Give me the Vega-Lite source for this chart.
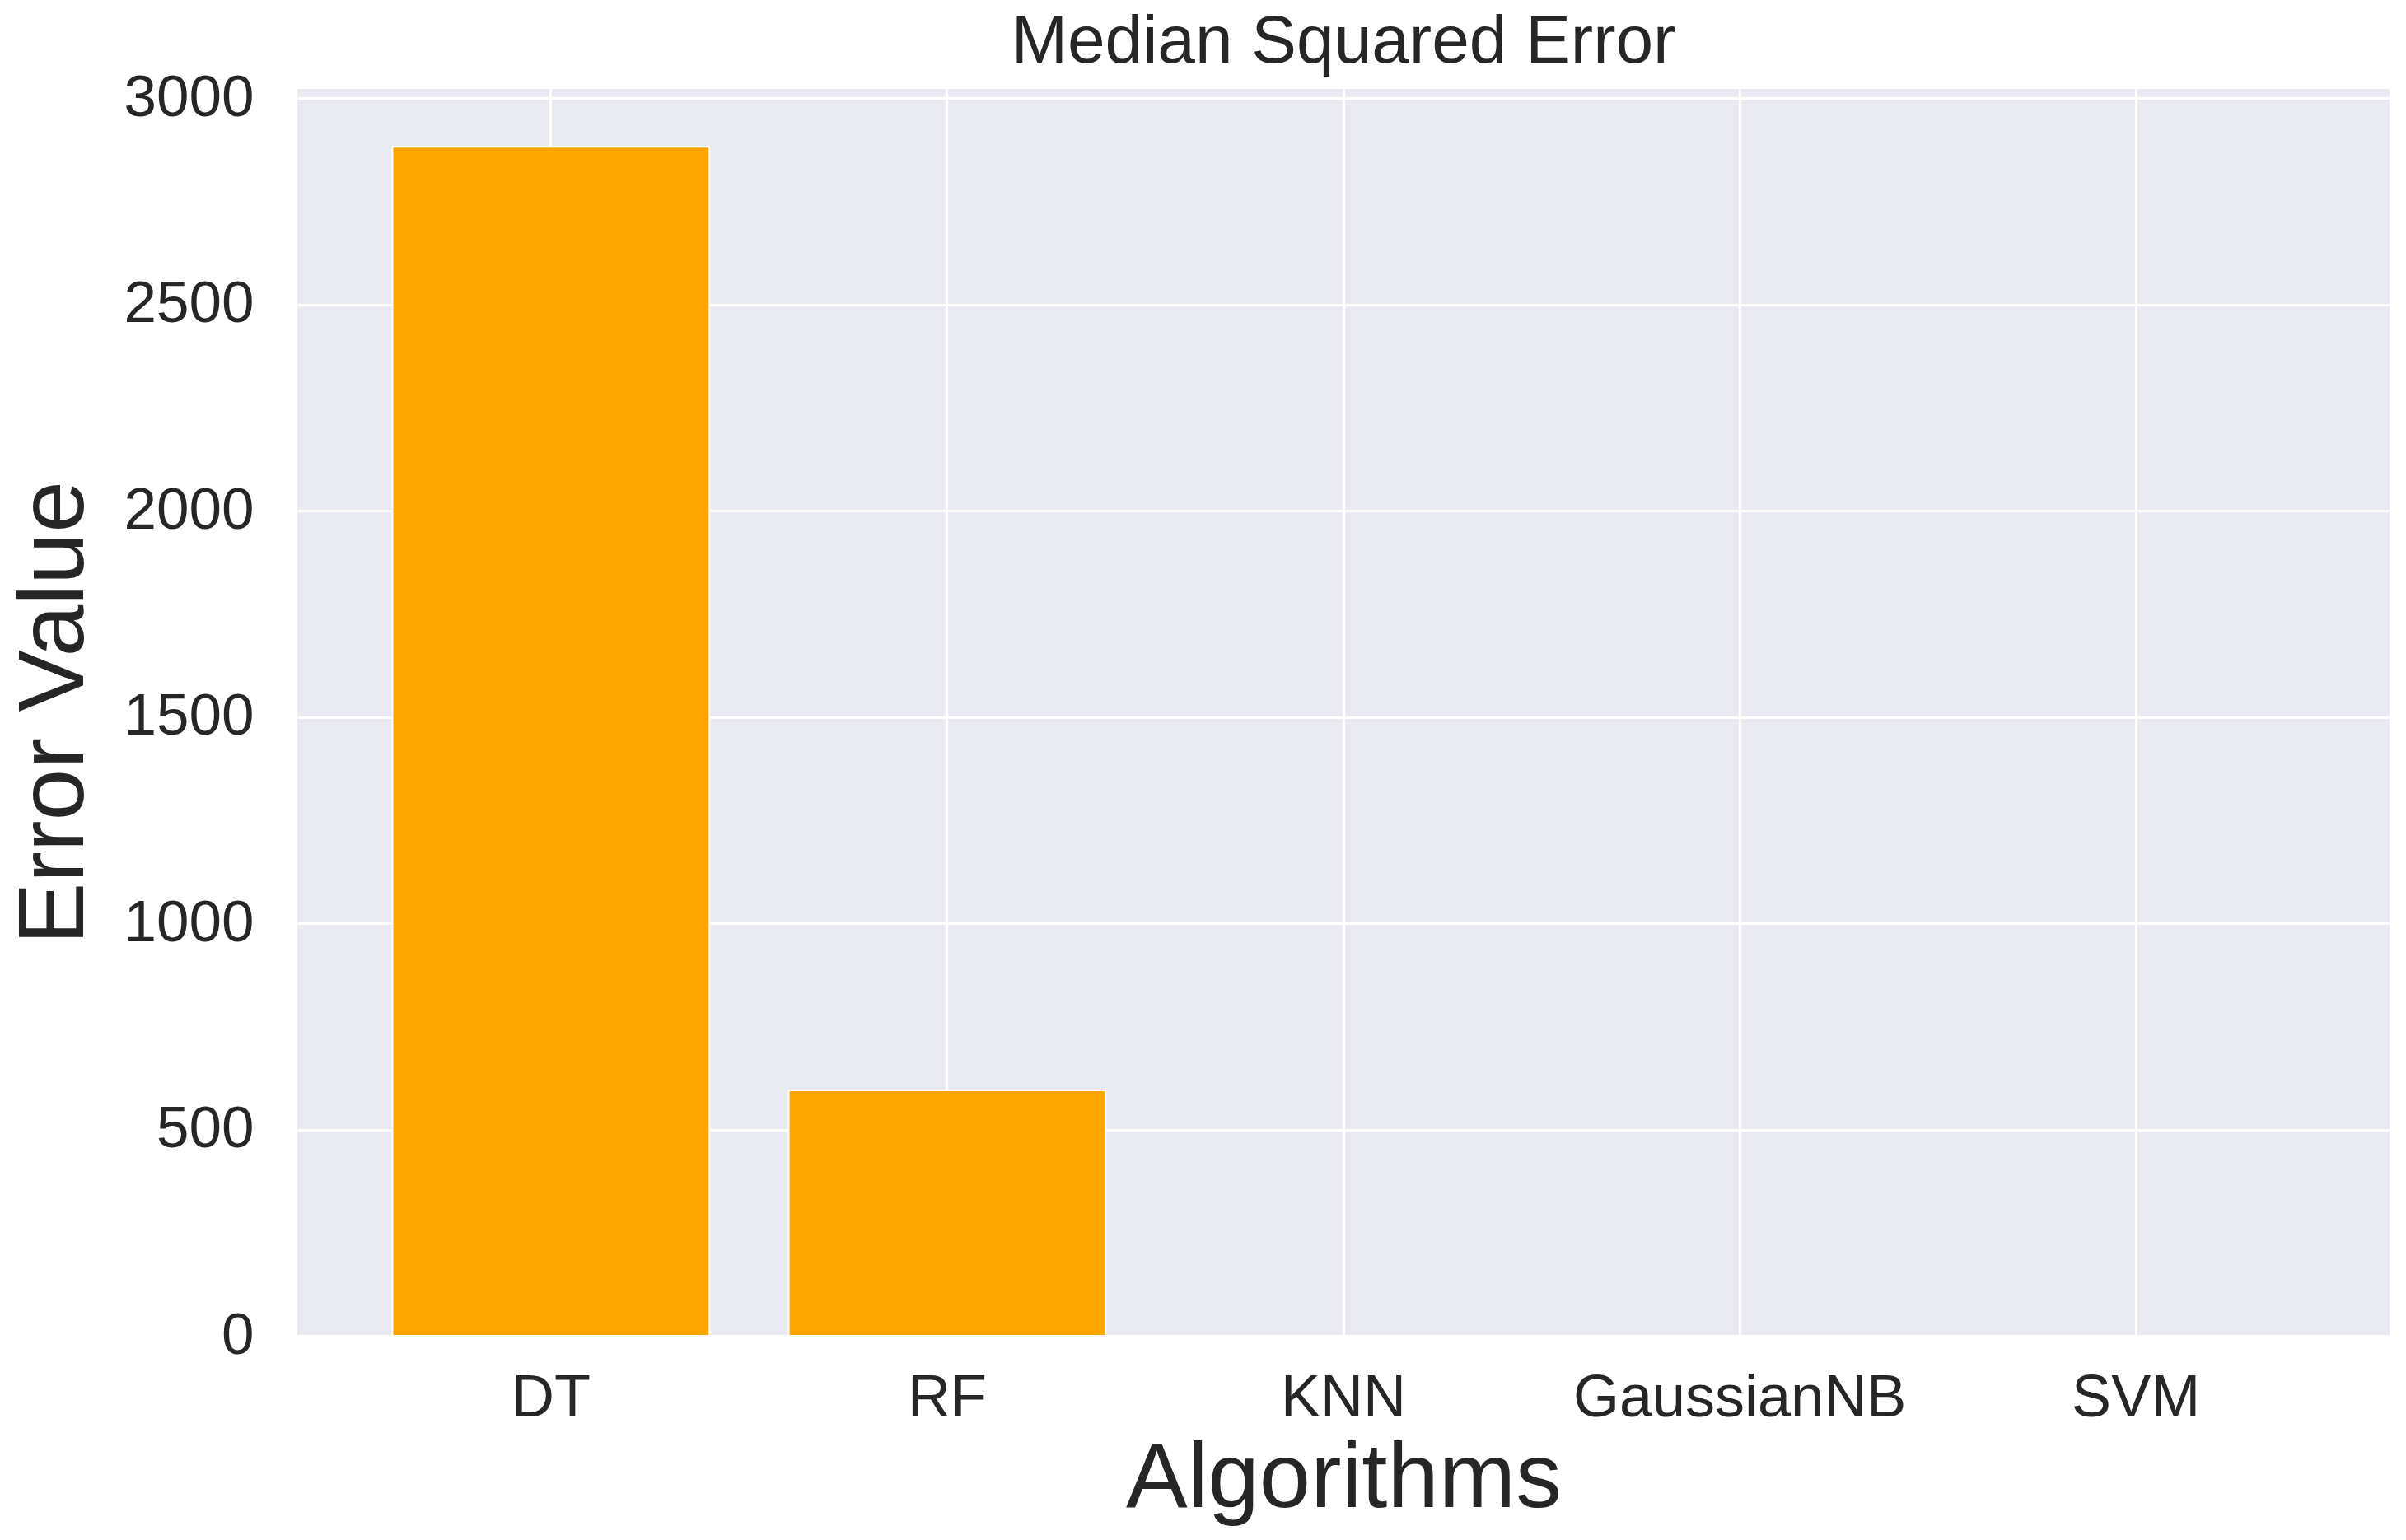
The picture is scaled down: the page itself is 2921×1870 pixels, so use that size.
{
  "$schema": "https://vega.github.io/schema/vega-lite/v6.json",
  "width": 2540,
  "height": 1514,
  "autosize": {"type": "none"},
  "padding": {"left": 361, "top": 108, "right": 20, "bottom": 248},
  "background": "white",
  "title": {
    "text": "Median Squared Error",
    "font": "Liberation Sans",
    "fontSize": 82,
    "fontWeight": "normal",
    "color": "#262626",
    "offset": -10
  },
  "data": {
    "values": [
      {"algorithm": "DT", "error": 2882},
      {"algorithm": "RF", "error": 595},
      {"algorithm": "KNN", "error": 0},
      {"algorithm": "GaussianNB", "error": 0},
      {"algorithm": "SVM", "error": 0}
    ]
  },
  "mark": {"type": "bar", "color": "#FFA500", "stroke": "white", "strokeWidth": 2},
  "encoding": {
    "x": {
      "field": "algorithm",
      "type": "nominal",
      "sort": null,
      "scale": {"paddingInner": 0.2, "paddingOuter": 0.24},
      "axis": {
        "title": "Algorithms",
        "titleFontSize": 112,
        "titlePadding": 8,
        "labelFontSize": 72,
        "labelAngle": 0,
        "labelPadding": 40,
        "labelLimit": 0,
        "ticks": false,
        "tickSize": 0
      }
    },
    "y": {
      "field": "error",
      "type": "quantitative",
      "scale": {"domain": [0, 3022], "nice": false, "zero": true},
      "axis": {
        "title": "Error Value",
        "titleFontSize": 113,
        "titlePadding": 37,
        "labelFontSize": 71,
        "labelPadding": 53,
        "format": "d",
        "values": [0, 500, 1000, 1500, 2000, 2500, 3000],
        "ticks": false,
        "tickSize": 0
      }
    }
  },
  "config": {
    "font": "Liberation Sans",
    "view": {"fill": "#EAEAF2", "stroke": null},
    "axis": {
      "domain": false,
      "grid": true,
      "gridColor": "white",
      "gridWidth": 3,
      "gridOpacity": 1,
      "labelColor": "#262626",
      "titleColor": "#262626",
      "labelFont": "Liberation Sans",
      "titleFont": "Liberation Sans",
      "titleFontWeight": "normal"
    }
  }
}
